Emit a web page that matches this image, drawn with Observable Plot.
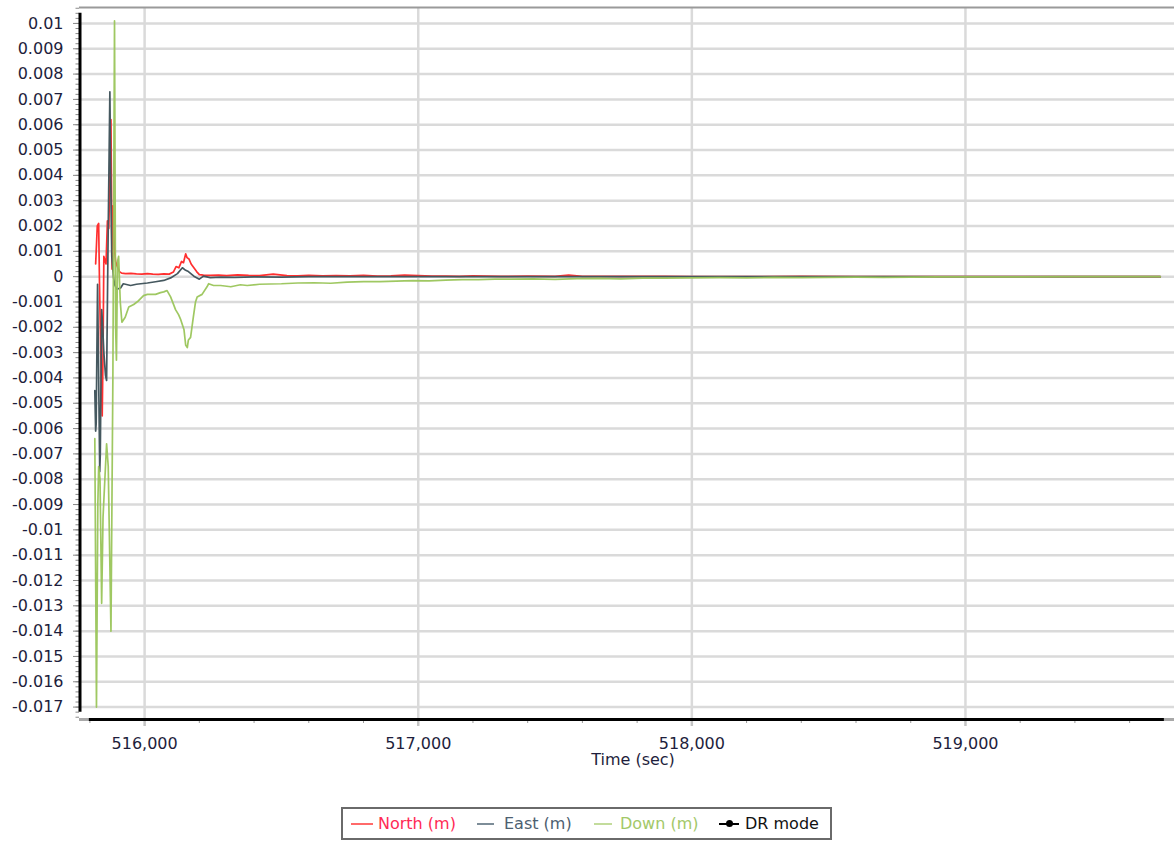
<!DOCTYPE html>
<html><head><meta charset="utf-8">
<script src="https://cdn.jsdelivr.net/npm/d3@7"></script>
<script src="https://cdn.jsdelivr.net/npm/@observablehq/plot@0.6"></script>
<style>
body{margin:0;background:#fff;font-family:"DejaVu Sans",Verdana,sans-serif;position:relative;width:1174px;height:842px;overflow:hidden;}
#chart{position:absolute;left:0;top:0;}
#legend{position:absolute;left:341px;top:807px;width:487px;height:29px;border:2px solid #6a6a6a;background:#fff;font-size:16px;}
#legend .it{position:absolute;top:0;height:29px;line-height:29px;white-space:nowrap;}
#legend .ic{position:absolute;top:14px;height:2px;}
#legend .dot{position:absolute;top:11px;width:7px;height:7px;border-radius:50%;background:#000;}
</style></head><body>
<div id="chart"></div>
<div id="legend"></div>
<script>
// ---- data ----
const northT = [515821,515827,515832,515835,515840,515845,515848,515851,515856,515859,515864,515869,515873,515877,515881,515885,515889,515894,515900,515908,515916,515930,515950,515970,515990,516010,516030,516050,516070,516090,516105,516115,516125,516135,516142,516150,516155,516162,516170,516180,516190,516200,516215,516240,516270,516300,516340,516380,516420,516470,516520,516560,516600,516650,516700,516750,516800,516850,516900,516950,517000,517050,517100,517150,517200,517300,517400,517500,517550,517600,517700,517800,517900,518000,518200,518400,518600,518800,519000,519200,519400,519712];
const northV = [0.0005,0.0020,0.0021,-0.0002,-0.0032,-0.0055,-0.0030,0.0008,0.0006,0.0005,0.0022,0.0019,0.0040,0.0062,0.0003,0.0028,0.0012,0.0006,0.0004,0.0002,0.00014,0.00012,0.00013,0.00011,0.0001,0.00012,0.0001,0.00009,0.00011,0.0001,0.00018,0.0004,0.00035,0.0006,0.00055,0.0009,0.00075,0.0007,0.0005,0.00035,0.0002,0.00008,0.00006,0.00005,0.00006,0.00004,0.00007,0.00005,0.00004,0.0001,0.00004,0.00003,0.00005,0.00003,0.00004,0.00003,0.00005,0.00002,0.00003,0.00006,0.00004,0.00002,0.00002,0.00001,0.00003,0.00001,0.00002,0.00001,0.00006,0.00001,0.00001,0.00001,0.00001,0,0,0.00001,0,0,0,0,0,0];

const eastT = [515818,515821,515823,515828,515831,515836,515838,515843,515846,515851,515857,515861,515866,515873,515876,515880,515886,515890,515898,515912,515922,515949,515970,516010,516040,516070,516095,516120,516138,516150,516160,516180,516200,516215,516240,516280,516330,516400,516500,516600,516800,517000,517500,518000,518500,519000,519500,519712];
const eastV = [-0.0045,-0.0061,-0.0058,-0.0003,-0.0030,-0.0077,-0.0070,-0.0013,-0.0018,-0.0030,-0.0039,-0.0041,0.0010,0.0073,0.0040,0.0008,0,-0.0003,-0.0005,-0.00045,-0.00028,-0.00035,-0.0003,-0.00025,-0.0002,-0.00015,-0.00005,0.00012,0.00035,0.00025,0.0002,0.00002,-0.0001,0.00002,-0.00004,-0.00002,-0.00003,-0.00001,-0.00002,0,0,0,0,0,0,0,0,0];

const downT = [515818,515824,515829,515832,515837,515843,515848,515861,515867,515877,515884,515890,515894,515897,515901,515905,515911,515917,515929,515942,515960,515978,515996,516010,516040,516058,516070,516082,516095,516113,516124,516132,516144,516150,516156,516160,516168,516178,516186,516192,516210,516228,516234,516252,516278,516315,516350,516375,516420,516500,516560,516620,516680,516740,516800,516860,516920,516980,517040,517100,517160,517220,517280,517340,517420,517500,517580,517660,517740,517820,517900,518000,518100,518200,518300,518400,518500,518600,518700,518800,518900,519000,519200,519400,519712];
const downV = [-0.0064,-0.0170,-0.0090,-0.0075,-0.0080,-0.0129,-0.0095,-0.0066,-0.0075,-0.0140,-0.0040,0.0101,-0.0020,-0.0033,0.0006,0.0008,-0.0010,-0.0018,-0.0016,-0.0012,-0.0011,-0.00095,-0.00075,-0.0007,-0.0007,-0.00063,-0.0006,-0.00055,-0.0008,-0.0013,-0.0015,-0.0017,-0.0021,-0.0027,-0.0028,-0.0025,-0.0024,-0.0016,-0.0010,-0.0008,-0.0007,-0.0004,-0.00028,-0.00035,-0.00035,-0.0004,-0.00032,-0.00035,-0.0003,-0.00028,-0.00025,-0.00024,-0.00026,-0.00022,-0.0002,-0.0002,-0.00018,-0.00016,-0.00017,-0.00014,-0.00012,-0.00012,-0.0001,-0.0001,-0.00009,-0.00011,-0.00008,-0.00007,-0.00009,-0.00006,-0.00006,-0.00005,-0.00004,-0.00005,-0.00003,-0.00004,-0.00003,-0.00002,-0.00003,-0.00002,-0.00001,-0.00001,-0.00001,0,0];

const yTicks = [0.01,0.009,0.008,0.007,0.006,0.005,0.004,0.003,0.002,0.001,0,-0.001,-0.002,-0.003,-0.004,-0.005,-0.006,-0.007,-0.008,-0.009,-0.01,-0.011,-0.012,-0.013,-0.014,-0.015,-0.016,-0.017];
const xTicks = [516000,517000,518000,519000];
const xMinor = [515800,516200,516400,516600,516800,517200,517400,517600,517800,518200,518400,518600,518800,519200,519400,519600];
const seriesNames = ["North (m)","East (m)","Down (m)","DR mode"];
const lineColors = ["#ff2f2f","#45585f","#9ac55a","#000000"];
const textColors = ["#ff2a55","#4d6070","#a3c868","#111111"];
const iconColors = ["#ff6a6a","#7d8d98","#c3dc9c","#000000"];
const xLabel = "Time (sec)";

// ---- build ----
const mk = (T, V) => T.map((t, i) => ({t, v: V[i]}));
const north = mk(northT, northV), east = mk(eastT, eastV), down = mk(downT, downV);
const all = north.concat(east, down);
const tMin = d3.min(all, d => d.t), tMax = d3.max(all, d => d.t);
const vMin = d3.min(all, d => d.v), vMax = d3.max(all, d => d.v);

const xDomain = [515762, 519764];
const yDomain = [-0.01749, 0.01063];
const yMinor = d3.range(-87, 54).map(i => +(i * 0.0002).toFixed(4));
const fmtY = d => String(+d.toFixed(3));
const fmtX = d3.format(",");
const txt = "#1e1e3c";

const chart = Plot.plot({
  width: 1174, height: 790,
  marginLeft: 79, marginRight: 0, marginTop: 7, marginBottom: 71,
  style: {fontFamily: "DejaVu Sans, Verdana, sans-serif", fontSize: "16px", background: "#fff", overflow: "visible"},
  x: {domain: xDomain, label: null},
  y: {domain: yDomain, label: null},
  marks: [
    Plot.ruleY(yTicks, {stroke: "#dadada", strokeWidth: 2.5}),
    Plot.ruleX(xTicks, {stroke: "#dadada", strokeWidth: 2.5}),
    Plot.ruleY([yDomain[1]], {stroke: "#9a9a9a", strokeWidth: 2}),
    Plot.ruleY([yDomain[0]], {stroke: "#a8a8a8", strokeWidth: 3}),
    Plot.axisY({ticks: yMinor, tickSize: 3.5, tickFormat: () => "", stroke: "#8a8a8a", label: null}),
    Plot.axisY({ticks: yTicks, tickSize: 6, tickPadding: 10, tickFormat: fmtY, stroke: "#8a8a8a", fill: txt, label: null}),
    Plot.axisX({ticks: xMinor, tickSize: 4, tickFormat: () => "", stroke: "#9a9a9a", label: null}),
    Plot.axisX({ticks: xTicks, tickSize: 7, tickPadding: 11, tickFormat: fmtX, stroke: "#c4c4c4", strokeWidth: 2.5, fill: txt, label: null}),
    Plot.ruleY([yDomain[0]], {x1: tMin - 20, x2: tMax + 15, stroke: "#000", strokeWidth: 3}),
    Plot.ruleX([xDomain[0]], {y1: vMin - 0.0002, y2: vMax + 0.0003, stroke: "#000", strokeWidth: 3, dx: 0.5}),
    Plot.line(north, {x: "t", y: "v", stroke: lineColors[0], strokeWidth: 1.7}),
    Plot.line(east, {x: "t", y: "v", stroke: lineColors[1], strokeWidth: 1.7}),
    Plot.line(down, {x: "t", y: "v", stroke: lineColors[2], strokeWidth: 1.7, strokeOpacity: 0.95}),
    Plot.text([xLabel], {frameAnchor: "bottom", dy: 45, dx: 6, fill: txt, fontSize: 16})
  ]
});
document.getElementById("chart").append(chart);

// ---- legend ----
const lg = document.getElementById("legend");
const iconX = [8, 134, 251, 376], iconW = [22, 17, 18, 20], textX = [35, 161, 277, 402];
seriesNames.forEach((name, i) => {
  const ic = document.createElement("div");
  ic.className = "ic";
  ic.style.left = iconX[i] + "px"; ic.style.width = iconW[i] + "px";
  ic.style.background = iconColors[i];
  lg.append(ic);
  if (i === 3) {
    const dot = document.createElement("div");
    dot.className = "dot";
    dot.style.left = (iconX[i] + 7) + "px";
    lg.append(dot);
  }
  const t = document.createElement("div");
  t.className = "it";
  t.style.left = textX[i] + "px";
  t.style.color = textColors[i];
  t.textContent = name;
  lg.append(t);
});
</script>
</body></html>
